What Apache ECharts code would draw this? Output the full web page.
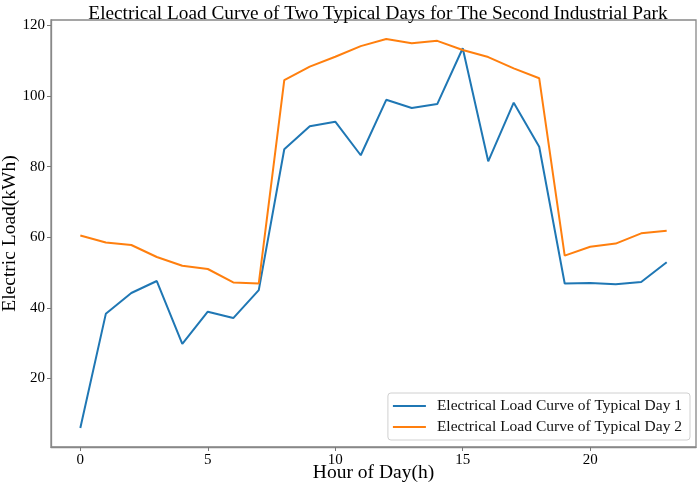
<!DOCTYPE html>
<html>
<head>
<meta charset="utf-8">
<script src="https://cdn.jsdelivr.net/npm/echarts@6/dist/echarts.min.js"></script>
<style>
html,body{margin:0;padding:0;background:#fff;}
#c{width:699px;height:490px;}
</style>
</head>
<body>
<div id="c"></div>
<script>
const hours = [0,1,2,3,4,5,6,7,8,9,10,11,12,13,14,15,16,17,18,19,20,21,22,23];
const day1 = [6.0,38.3,44.2,47.6,29.8,38.9,37.1,45.0,84.9,91.4,92.7,83.2,98.9,96.6,97.7,113.5,81.5,98.1,85.6,46.9,47.0,46.7,47.3,52.9];
const day2 = [60.5,58.5,57.8,54.4,51.9,51.0,47.2,46.9,104.5,108.3,111.1,114.1,116.1,114.9,115.6,113.0,111.0,107.8,105.0,54.8,57.3,58.2,61.1,61.8];
const seriesNames = ['Electrical Load Curve of Typical Day 1','Electrical Load Curve of Typical Day 2'];
const xName = 'Hour of Day(h)';
const yName = 'Electric Load(kWh)';

const font = 'Liberation Serif';
const chart = echarts.init(document.getElementById('c'), null, {renderer:'canvas'});
chart.setOption({
  animation:false,
  backgroundColor:'#fff',
  title:{
    text:'Electrical Load Curve of Two Typical Days for The Second Industrial Park',
    left:373, top:-1, textAlign:'center',
    textStyle:{fontFamily:font,fontSize:19.3,fontWeight:'normal',color:'#000'}
  },
  grid:{left:51,right:3,top:20,bottom:43,show:true,borderColor:'#888',borderWidth:1.3,backgroundColor:'transparent',containLabel:false,outerBoundsMode:'none'},
  legend:{
    orient:'vertical', right:9, bottom:50,
    icon:'rect', itemWidth:33, itemHeight:2, itemGap:5,
    padding:[5,8,5,5],
    backgroundColor:'#fff', borderColor:'#d0d0d0', borderWidth:1, borderRadius:3,
    textStyle:{fontFamily:font,fontSize:15.5,color:'#111',padding:[0,0,0,6]},
    data:seriesNames
  },
  graphic:[
    {type:'text',x:373.5,y:473,style:{text:xName,font:'19.5px "Liberation Serif"',fill:'#000',textAlign:'center',textVerticalAlign:'middle'},silent:true},
    {type:'text',x:9.5,y:233.5,rotation:Math.PI/2,style:{text:yName,font:'19.5px "Liberation Serif"',fill:'#000',textAlign:'center',textVerticalAlign:'middle'},silent:true}
  ],
  xAxis:{
    type:'value', min:-1.15, max:24.15, splitNumber:5,
    axisLine:{show:true,onZero:false,lineStyle:{color:'#888',width:1.3}},
    axisTick:{show:true,inside:false,length:4,lineStyle:{color:'#777',width:1}},
    axisLabel:{fontFamily:font,fontSize:15,color:'#000',margin:6,showMinLabel:false,showMaxLabel:false},
    splitLine:{show:false}
  },
  yAxis:{
    type:'value', min:0.6, max:121.5, splitNumber:6,
    axisLine:{show:true,onZero:false,lineStyle:{color:'#888',width:1.3}},
    axisTick:{show:true,inside:false,length:4,lineStyle:{color:'#777',width:1}},
    axisLabel:{fontFamily:font,fontSize:15,color:'#000',margin:6,showMinLabel:false,showMaxLabel:false},
    splitLine:{show:false}
  },
  series:[
    {name:seriesNames[0],type:'line',data:hours.map((h,i)=>[h,day1[i]]),symbol:'none',lineStyle:{color:'#1f77b4',width:2},itemStyle:{color:'#1f77b4'}},
    {name:seriesNames[1],type:'line',data:hours.map((h,i)=>[h,day2[i]]),symbol:'none',lineStyle:{color:'#ff7f0e',width:2},itemStyle:{color:'#ff7f0e'}}
  ]
});
</script>
</body>
</html>
